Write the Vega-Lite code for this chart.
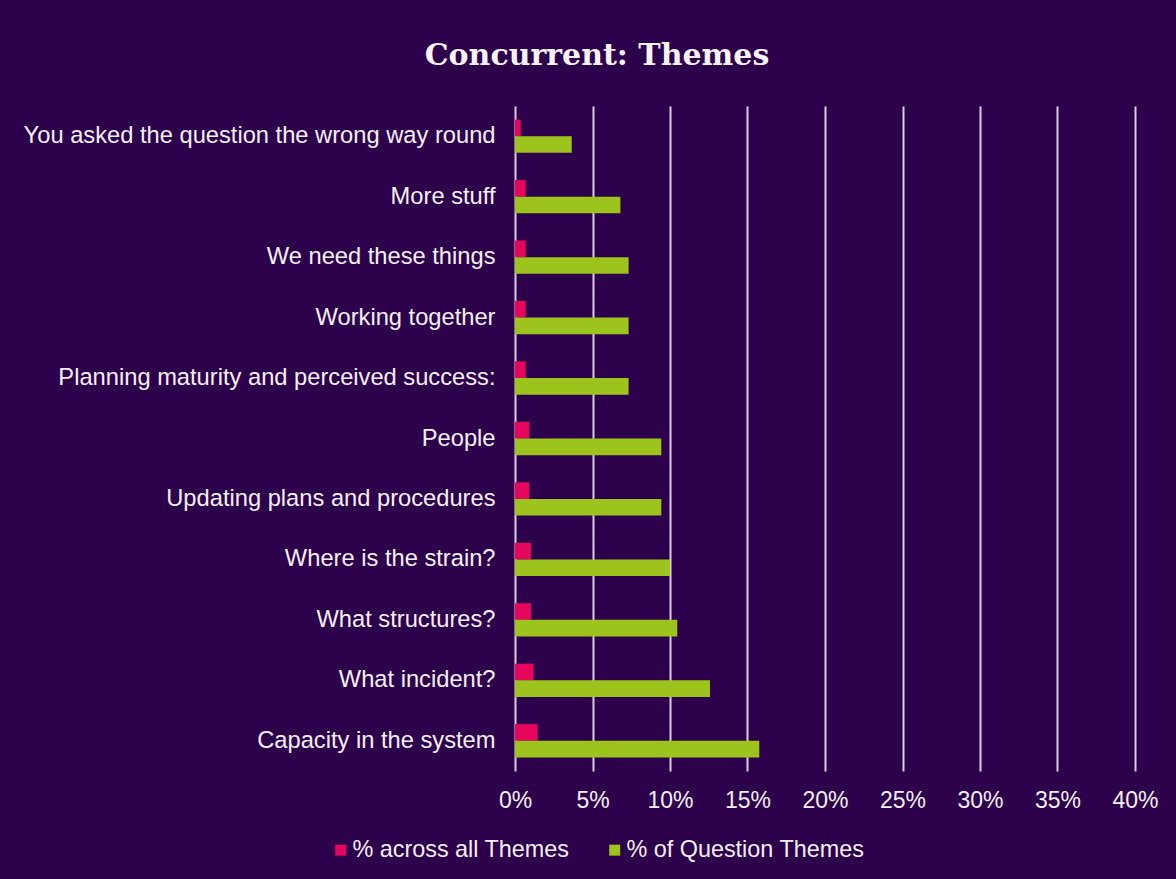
{
  "$schema": "https://vega.github.io/schema/vega-lite/v6.json",
  "autosize": {"type": "none"},
  "width": 620,
  "height": 665,
  "padding": {"left": 515, "top": 106, "right": 41, "bottom": 108},
  "background": "#2D004B",
  "title": {
    "text": "Concurrent: Themes",
    "font": "DejaVu Serif",
    "fontSize": 30,
    "fontWeight": "bold",
    "color": "#F7F3F8",
    "anchor": "middle",
    "baseline": "alphabetic",
    "offset": 11,
    "dx": -228
  },
  "data": {
    "values": [
      {"theme": "You asked the question the wrong way round", "series": "% across all Themes", "value": 0.0037},
      {"theme": "You asked the question the wrong way round", "series": "% of Question Themes", "value": 0.0366},
      {"theme": "More stuff", "series": "% across all Themes", "value": 0.0069},
      {"theme": "More stuff", "series": "% of Question Themes", "value": 0.068},
      {"theme": "We need these things", "series": "% across all Themes", "value": 0.0069},
      {"theme": "We need these things", "series": "% of Question Themes", "value": 0.0733},
      {"theme": "Working together", "series": "% across all Themes", "value": 0.0069},
      {"theme": "Working together", "series": "% of Question Themes", "value": 0.0733},
      {"theme": "Planning maturity and perceived success:", "series": "% across all Themes", "value": 0.0069},
      {"theme": "Planning maturity and perceived success:", "series": "% of Question Themes", "value": 0.0733},
      {"theme": "People", "series": "% across all Themes", "value": 0.0092},
      {"theme": "People", "series": "% of Question Themes", "value": 0.0944},
      {"theme": "Updating plans and procedures", "series": "% across all Themes", "value": 0.0092},
      {"theme": "Updating plans and procedures", "series": "% of Question Themes", "value": 0.0944},
      {"theme": "Where is the strain?", "series": "% across all Themes", "value": 0.0103},
      {"theme": "Where is the strain?", "series": "% of Question Themes", "value": 0.1},
      {"theme": "What structures?", "series": "% across all Themes", "value": 0.0103},
      {"theme": "What structures?", "series": "% of Question Themes", "value": 0.1047},
      {"theme": "What incident?", "series": "% across all Themes", "value": 0.012},
      {"theme": "What incident?", "series": "% of Question Themes", "value": 0.1258},
      {"theme": "Capacity in the system", "series": "% across all Themes", "value": 0.0146},
      {"theme": "Capacity in the system", "series": "% of Question Themes", "value": 0.1576}
    ]
  },
  "mark": {"type": "bar"},
  "encoding": {
    "y": {
      "field": "theme",
      "type": "nominal",
      "sort": null,
      "scale": {"paddingInner": 0.45, "paddingOuter": 0.225},
      "axis": {
        "title": null,
        "domain": false,
        "ticks": false,
        "labelPadding": 20,
        "labelFont": "Liberation Sans",
        "labelFontSize": 23.7,
        "labelColor": "#F5F0F7",
        "labelLimit": 600
      }
    },
    "yOffset": {
      "field": "series",
      "type": "nominal",
      "sort": ["% across all Themes", "% of Question Themes"],
      "scale": {"paddingInner": 0, "paddingOuter": 0}
    },
    "x": {
      "field": "value",
      "type": "quantitative",
      "scale": {"domain": [0, 0.4], "nice": false},
      "axis": {
        "title": null,
        "values": [0, 0.05, 0.1, 0.15, 0.2, 0.25, 0.3, 0.35, 0.4],
        "format": ".0%",
        "domain": false,
        "ticks": false,
        "grid": true,
        "gridColor": "#D9CFE0",
        "gridWidth": 2,
        "gridOpacity": 1,
        "labelPadding": 18,
        "labelFont": "Liberation Sans",
        "labelFontSize": 23,
        "labelColor": "#F5F0F7",
        "labelFlush": false
      }
    },
    "color": {
      "field": "series",
      "type": "nominal",
      "sort": ["% across all Themes", "% of Question Themes"],
      "scale": {"domain": ["% across all Themes", "% of Question Themes"], "range": ["#E6065E", "#9DC41C"]},
      "legend": {
        "title": null,
        "orient": "none",
        "direction": "horizontal",
        "legendX": -186,
        "legendY": 732,
        "padding": 0,
        "symbolType": "square",
        "symbolSize": 121,
        "symbolStrokeWidth": 0,
        "labelFont": "Liberation Sans",
        "labelFontSize": 23.4,
        "labelColor": "#F5F0F7",
        "labelOffset": 0,
        "columnPadding": 33,
        "labelLimit": 400
      }
    }
  },
  "config": {
    "view": {"stroke": null}
  }
}
